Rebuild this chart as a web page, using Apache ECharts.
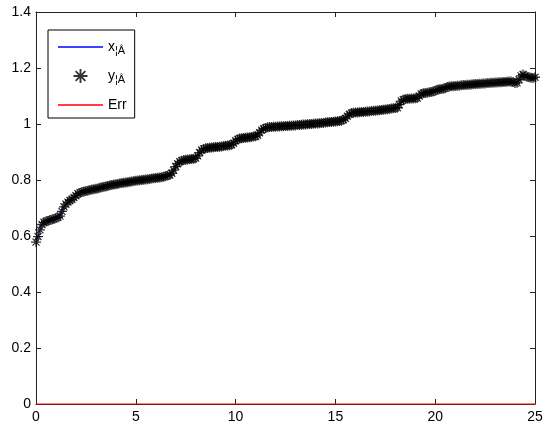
<!DOCTYPE html>
<html>
<head>
<meta charset="utf-8">
<script src="https://cdn.jsdelivr.net/npm/echarts@6/dist/echarts.min.js"></script>
<style>html,body{margin:0;padding:0;background:#fff;}#c{width:550px;height:433px;}</style>
</head>
<body>
<div id="c"></div>
<script>
// x sample positions (0 .. 25, step 0.1)
var xValues = [
0.0,0.1,0.2,0.3,0.4,0.5,0.6,0.7,0.8,0.9,
1.0,1.1,1.2,1.3,1.4,1.5,1.6,1.7,1.8,1.9,
2.0,2.1,2.2,2.3,2.4,2.5,2.6,2.7,2.8,2.9,
3.0,3.1,3.2,3.3,3.4,3.5,3.6,3.7,3.8,3.9,
4.0,4.1,4.2,4.3,4.4,4.5,4.6,4.7,4.8,4.9,
5.0,5.1,5.2,5.3,5.4,5.5,5.6,5.7,5.8,5.9,
6.0,6.1,6.2,6.3,6.4,6.5,6.6,6.7,6.8,6.9,
7.0,7.1,7.2,7.3,7.4,7.5,7.6,7.7,7.8,7.9,
8.0,8.1,8.2,8.3,8.4,8.5,8.6,8.7,8.8,8.9,
9.0,9.1,9.2,9.3,9.4,9.5,9.6,9.7,9.8,9.9,
10.0,10.1,10.2,10.3,10.4,10.5,10.6,10.7,10.8,10.9,
11.0,11.1,11.2,11.3,11.4,11.5,11.6,11.7,11.8,11.9,
12.0,12.1,12.2,12.3,12.4,12.5,12.6,12.7,12.8,12.9,
13.0,13.1,13.2,13.3,13.4,13.5,13.6,13.7,13.8,13.9,
14.0,14.1,14.2,14.3,14.4,14.5,14.6,14.7,14.8,14.9,
15.0,15.1,15.2,15.3,15.4,15.5,15.6,15.7,15.8,15.9,
16.0,16.1,16.2,16.3,16.4,16.5,16.6,16.7,16.8,16.9,
17.0,17.1,17.2,17.3,17.4,17.5,17.6,17.7,17.8,17.9,
18.0,18.1,18.2,18.3,18.4,18.5,18.6,18.7,18.8,18.9,
19.0,19.1,19.2,19.3,19.4,19.5,19.6,19.7,19.8,19.9,
20.0,20.1,20.2,20.3,20.4,20.5,20.6,20.7,20.8,20.9,
21.0,21.1,21.2,21.3,21.4,21.5,21.6,21.7,21.8,21.9,
22.0,22.1,22.2,22.3,22.4,22.5,22.6,22.7,22.8,22.9,
23.0,23.1,23.2,23.3,23.4,23.5,23.6,23.7,23.8,23.9,
24.0,24.1,24.2,24.3,24.4,24.5,24.6,24.7,24.8,24.9,
25.0
];
var yValues = [
0.578,0.598,0.622,0.641,0.649,0.652,0.654,0.657,0.659,0.661,
0.664,0.667,0.671,0.688,0.704,0.714,0.721,0.727,0.731,0.737,
0.744,0.751,0.754,0.757,0.759,0.761,0.762,0.764,0.766,0.767,
0.769,0.770,0.772,0.774,0.776,0.777,0.779,0.781,0.782,0.784,
0.785,0.786,0.788,0.789,0.790,0.791,0.792,0.794,0.795,0.796,
0.797,0.798,0.799,0.800,0.801,0.802,0.803,0.804,0.805,0.806,
0.807,0.808,0.809,0.810,0.812,0.814,0.816,0.818,0.824,0.835,
0.848,0.858,0.865,0.869,0.871,0.872,0.873,0.874,0.875,0.876,
0.878,0.886,0.898,0.907,0.911,0.913,0.914,0.915,0.916,0.917,
0.918,0.918,0.919,0.920,0.921,0.922,0.923,0.924,0.926,0.931,
0.940,0.945,0.948,0.949,0.950,0.951,0.952,0.953,0.954,0.955,
0.956,0.960,0.969,0.978,0.983,0.986,0.988,0.989,0.989,0.990,
0.990,0.991,0.991,0.992,0.992,0.993,0.993,0.994,0.994,0.995,
0.995,0.996,0.996,0.997,0.998,0.998,0.999,1.000,1.000,1.001,
1.002,1.002,1.003,1.004,1.004,1.005,1.006,1.007,1.007,1.008,
1.009,1.010,1.011,1.012,1.015,1.020,1.028,1.035,1.039,1.040,
1.041,1.041,1.042,1.043,1.043,1.044,1.045,1.045,1.046,1.047,
1.047,1.048,1.049,1.050,1.051,1.052,1.053,1.054,1.055,1.056,
1.057,1.058,1.069,1.082,1.087,1.089,1.090,1.090,1.091,1.091,
1.092,1.093,1.100,1.107,1.110,1.111,1.112,1.113,1.114,1.116,
1.119,1.122,1.124,1.125,1.126,1.128,1.132,1.134,1.135,1.135,
1.136,1.137,1.137,1.138,1.139,1.139,1.140,1.140,1.141,1.142,
1.143,1.143,1.144,1.144,1.145,1.145,1.146,1.146,1.147,1.147,
1.148,1.148,1.149,1.149,1.150,1.150,1.151,1.152,1.152,1.150,
1.146,1.147,1.158,1.172,1.177,1.172,1.169,1.167,1.165,1.164,
1.167
];
// estimated curve (blue line) coincides with the measurements
var xEstValues = yValues;
// error curve
var errX = [0, 25];
var errValues = [0, 0];

var xTicks = [0, 5, 10, 15, 20, 25];
var yTicks = [0, 0.2, 0.4, 0.6, 0.8, 1, 1.2, 1.4];

var seriesNames = ['x\u00a6\u00c2', 'y\u00a6\u00c2', 'Err'];

function pairs(xs, ys) { return xs.map(function (x, i) { return [x, ys[i]]; }); }

var starPath = 'path://M0,8.7L20,8.7L20,11.3L0,11.3Z M8.7,0L11.3,0L11.3,20L8.7,20Z M2.1,3.9L3.9,2.1L17.9,16.1L16.1,17.9Z M16.1,2.1L17.9,3.9L3.9,17.9L2.1,16.1Z';
var linePath = 'path://M0,0L45,0L45,1.6L0,1.6Z';

var font = 'Liberation Sans, Arial, Helvetica, sans-serif';
var chart = echarts.init(document.getElementById('c'), null, {renderer: 'canvas'});
var axisCommon = {
  type: 'value',
  axisLine: {show: true, onZero: false, lineStyle: {color: '#222', width: 1}},
  axisTick: {show: true, inside: true, length: 5, lineStyle: {color: '#222'}},
  splitLine: {show: false}
};
chart.setOption({
  animation: false,
  backgroundColor: '#fff',
  grid: {left: 36, right: 15, top: 12, bottom: 29, containLabel: false},
  xAxis: [
    Object.assign({}, axisCommon, {position: 'bottom', min: xTicks[0], max: xTicks[xTicks.length-1], interval: 5,
      axisLabel: {color: '#000', fontSize: 14, fontFamily: font, margin: 6}}),
    Object.assign({}, axisCommon, {position: 'top', min: xTicks[0], max: xTicks[xTicks.length-1], interval: 5,
      axisLabel: {show: false}})
  ],
  yAxis: [
    Object.assign({}, axisCommon, {position: 'left', min: yTicks[0], max: yTicks[yTicks.length-1], interval: 0.2,
      axisLabel: {color: '#000', fontSize: 14, fontFamily: font, margin: 5,
        formatter: function (v) { return String(Math.round(v*10)/10); }}}),
    Object.assign({}, axisCommon, {position: 'right', min: yTicks[0], max: yTicks[yTicks.length-1], interval: 0.2,
      axisLabel: {show: false}})
  ],
  legend: {
    orient: 'vertical', left: 48, top: 30,
    backgroundColor: '#fff', borderColor: '#000', borderWidth: 1,
    padding: [10, 8, 6, 10],
    itemWidth: 45, itemHeight: 14, itemGap: 13,
    symbolKeepAspect: true,
    data: [
      {name: seriesNames[0], icon: linePath, itemStyle: {color: '#0000ff'}},
      {name: seriesNames[1], icon: starPath, itemStyle: {color: '#000'}},
      {name: seriesNames[2], icon: linePath, itemStyle: {color: '#ff0000'}}
    ],
    textStyle: {color: '#000', fontSize: 14, fontFamily: font,
      rich: {s: {fontSize: 11, fontFamily: font, color: '#000', padding: [7, 0, 0, 0]}}},
    formatter: function (name) {
      if (name === 'Err') return name;
      return name.charAt(0) + '{s|' + name.slice(1) + '}';
    }
  },
  series: [
    {
      name: seriesNames[0], type: 'line', data: pairs(xValues, xEstValues),
      showSymbol: false, symbol: 'none', lineStyle: {color: '#0000ff', width: 1}, itemStyle: {color: '#0000ff'}, z: 2
    },
    {
      name: seriesNames[1], type: 'scatter', data: pairs(xValues, yValues),
      symbol: starPath, symbolSize: 10, itemStyle: {color: '#000'}, z: 3
    },
    {
      name: seriesNames[2], type: 'line', data: pairs(errX, errValues),
      showSymbol: false, symbol: 'none', clip: false, lineStyle: {color: '#ff0000', width: 1}, itemStyle: {color: '#ff0000'}, z: 4
    }
  ]
});
</script>
</body>
</html>
